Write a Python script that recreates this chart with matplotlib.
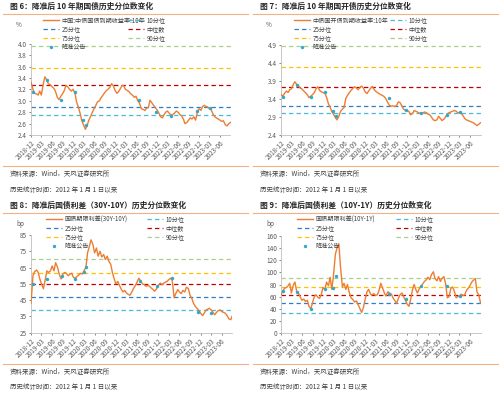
import numpy as np
import pandas as pd
import matplotlib
matplotlib.use("Agg")
import matplotlib.pyplot as plt
from matplotlib.lines import Line2D

plt.rcParams['font.family'] = ['Noto Sans CJK SC', 'DejaVu Sans']

# semi-monthly sampling of the curves
dates = pd.date_range("2018-12-15", "2023-09-15", freq="SMS")
tick_dates = pd.date_range("2018-12-15", periods=19, freq=pd.DateOffset(months=3))
tick_labels = [d.strftime("%Y-%m") for d in tick_dates]

rrr_dates = pd.to_datetime(["2019-01-04", "2019-05-06", "2019-09-06", "2020-01-01",
                            "2020-03-13", "2020-04-03", "2021-07-09", "2021-12-06",
                            "2022-04-15", "2022-11-25", "2023-03-17"])

pct_names = ["10分位", "25分位", "中位数", "75分位", "90分位"]

cgb10 = [3.33, 3.20, 3.13, 3.12, 3.10, 3.17, 3.10, 3.30, 3.42, 3.36,
         3.30, 3.28, 3.25, 3.22, 3.17, 3.06, 3.02, 3.08, 3.12, 3.18,
         3.27, 3.24, 3.20, 3.17, 3.20, 3.14, 2.98, 2.88, 2.78, 2.65,
         2.58, 2.50, 2.56, 2.66, 2.72, 2.80, 2.86, 2.92, 2.98, 3.00,
         3.05, 3.10, 3.14, 3.18, 3.20, 3.24, 3.30, 3.26, 3.18, 3.13,
         3.16, 3.22, 3.27, 3.26, 3.20, 3.18, 3.16, 3.12, 3.10, 3.06,
         3.08, 3.00, 2.96, 2.86, 2.85, 2.83, 2.87, 2.88, 3.01, 2.96,
         2.92, 2.88, 2.84, 2.78, 2.72, 2.70, 2.76, 2.80, 2.82, 2.78,
         2.75, 2.76, 2.78, 2.82, 2.80, 2.76, 2.74, 2.68, 2.60, 2.62,
         2.66, 2.70, 2.68, 2.72, 2.66, 2.80, 2.86, 2.83, 2.90, 2.92,
         2.90, 2.89, 2.86, 2.84, 2.77, 2.72, 2.70, 2.68, 2.66, 2.64,
         2.65, 2.58, 2.56, 2.60, 2.62]
cgb10_rrr = [3.15, 3.36, 3.02, 3.15, 2.66, 2.57, 3.01, 2.81, 2.74, 2.82, 2.87]
cgb10_pct = [2.75, 2.89, 3.27, 3.58, 3.96]

cdb10 = [3.52, 3.48, 3.56, 3.62, 3.58, 3.66, 3.68, 3.80, 3.88, 3.80,
         3.76, 3.70, 3.68, 3.62, 3.58, 3.52, 3.44, 3.48, 3.52, 3.58,
         3.68, 3.74, 3.64, 3.60, 3.58, 3.56, 3.45, 3.26, 3.18, 3.05,
         2.98, 2.88, 2.82, 2.92, 3.05, 3.12, 3.16, 3.42, 3.50, 3.58,
         3.64, 3.70, 3.74, 3.70, 3.66, 3.72, 3.76, 3.70, 3.60, 3.55,
         3.62, 3.70, 3.75, 3.68, 3.62, 3.58, 3.55, 3.52, 3.50, 3.46,
         3.40, 3.30, 3.22, 3.20, 3.21, 3.19, 3.22, 3.32, 3.30, 3.20,
         3.12, 3.08, 3.08, 3.05, 2.96, 3.00, 3.08, 3.06, 3.04, 3.00,
         3.02, 3.00, 3.04, 3.02, 2.98, 2.96, 2.90, 2.82, 2.80, 2.82,
         2.92, 2.86, 2.80, 2.84, 2.90, 2.98, 3.02, 3.04, 3.06, 3.08,
         3.06, 3.02, 3.02, 3.00, 2.94, 2.86, 2.82, 2.80, 2.78, 2.76,
         2.74, 2.70, 2.66, 2.70, 2.74]
cdb10_rrr = [3.46, 3.79, 3.45, 3.60, 3.07, 2.94, 3.42, 3.09, 3.02, 2.96, 3.03]
cdb10_pct = [3.00, 3.20, 3.74, 4.29, 4.87]

sp30_10 = [43, 60, 62.5, 63.5, 62, 58, 55, 52, 57, 63,
           62, 63, 66, 63, 68, 65, 61, 58, 61, 62,
           61.5, 60, 61, 61.5, 59, 58.4, 59.5, 60.5, 61.5, 61,
           63, 65, 74, 78, 82, 79, 74, 77, 72, 75,
           71.5, 73, 70, 72, 69, 67, 62, 58, 55, 56.5,
           54, 51.5, 50, 51, 49.5, 48.5, 48, 50, 52, 54,
           56, 58.5, 57, 55, 54.5, 53.5, 54, 53.5, 52.5, 51.5,
           50.5, 52, 54, 55.5, 54.5, 55.5, 56, 56.5, 57.5, 58.5,
           57, 46.5, 49, 51.5, 50, 49, 51, 50, 53, 52,
           48, 46, 43, 41, 40, 38.5, 37, 35.5, 37, 39,
           39.5, 40, 39, 37.5, 36, 37.5, 38.5, 39, 38, 37.5,
           37, 35.5, 33.5, 33, 35.5]
sp30_10_rrr = [54.7, 58, 59.6, 58, 62.2, 65.3, 56.8, 53.7, 58.4, 38, 37]
sp30_10_pct = [39, 47, 55, 61.5, 70.5]

sp10_1 = [63, 70, 74, 75, 78, 82, 66, 79, 84, 68,
          66, 59, 54, 56, 52, 54, 44, 40, 50, 60,
          63, 59, 57, 64, 75, 72, 84, 78, 92, 72,
          94, 130, 140, 147, 110, 76, 82, 72, 80, 66,
          58, 55, 51, 53, 47, 40, 34, 42, 55, 68,
          72, 64, 63, 65, 62, 63, 70, 82, 75, 66,
          61, 68, 66, 64, 58, 53, 49, 57, 63, 66,
          60, 54, 48, 44, 55, 72, 80, 72, 66, 73,
          77, 81, 85, 88, 92, 88, 96, 101, 90, 86,
          93, 85, 90, 93, 82, 58, 60, 74, 76, 68,
          58, 60, 61, 64, 62, 63, 70, 74, 78, 84,
          87, 90, 68, 62, 50]
sp10_1_rrr = [68.5, 67.2, 39.8, 72.5, 74.7, 94.3, 64, 56.5, 77, 76.8, 60.5]
sp10_1_pct = [32.5, 49.5, 62.5, 76, 90.5]

pct_colors = ["#4BB8D8", "#2F7DC4", "#C00000", "#FFC000", "#A9D18E"]
W, H = 500, 396
fig = plt.figure(figsize=(5.0, 3.96), dpi=100)
fig.patch.set_facecolor("white")


def fx(px):
    return px / W


def fy(py):
    return 1 - py / H


def panel(rect, x0, ytop, title, name, vals, rrr_vals, pcts, yticks, fmt, unit,
          col1, col2, source_y):
    ax = fig.add_axes(rect)
    line, = ax.plot(dates, vals, color="#ED7D31", lw=1.0, zorder=3)
    pl = []
    for v, c in zip(pcts, pct_colors):
        h = ax.axhline(v, color=c, lw=0.9, ls=(0, (3.5, 2.5)), zorder=2)
        pl.append(h)
    sc = ax.scatter(rrr_dates, rrr_vals, s=6, color="#2FA9C9", zorder=4, linewidths=0)
    ax.set_xlim(dates[0], dates[-1])
    ax.set_ylim(yticks[0], yticks[-1])
    ax.set_yticks(yticks)
    ax.set_yticklabels([fmt.format(t) for t in yticks])
    ax.set_xticks(tick_dates)
    ax.set_xticklabels(tick_labels, rotation=45, ha="right", rotation_mode="anchor")
    ax.tick_params(axis="both", labelsize=4.6, colors="#595959", length=1.5, width=0.5,
                   pad=1.5)
    for s in ["top", "right"]:
        ax.spines[s].set_visible(False)
    for s in ["left", "bottom"]:
        ax.spines[s].set_color("#BFBFBF")
        ax.spines[s].set_linewidth(0.6)
    ax.set_facecolor("white")

    kw = dict(loc="upper left", bbox_transform=fig.transFigure, frameon=False,
              fontsize=4.4, handlelength=2.6, handletextpad=0.4, labelspacing=0.12,
              borderpad=0, borderaxespad=0, scatterpoints=1, markerscale=1.0)
    leg1 = ax.legend([line, pl[1], pl[3], sc], [name, pct_names[1], pct_names[3], "降准公告"],
                     bbox_to_anchor=(fx(col1), fy(ytop + 10.5)), **kw)
    for t in leg1.get_texts():
        t.set_color("#404040")
    ax.add_artist(leg1)
    leg2 = ax.legend([pl[0], pl[2], pl[4]], [pct_names[0], pct_names[2], pct_names[4]],
                     bbox_to_anchor=(fx(col2), fy(ytop + 10.5)), **kw)
    for t in leg2.get_texts():
        t.set_color("#404040")

    fig.text(fx(x0 + 10), fy(ytop), title, fontsize=5.6, fontweight="bold",
             color="#262626", va="center", ha="left")
    fig.add_artist(Line2D([fx(x0 + 3), fx(x0 + 248)], [fy(ytop + 8.3)] * 2,
                          transform=fig.transFigure, color="#F4B183", lw=0.8))
    fig.add_artist(Line2D([fx(x0 + 3), fx(x0 + 248)], [fy(source_y - 8.5)] * 2,
                          transform=fig.transFigure, color="#F4B183", lw=0.8))
    fig.text(fx(x0 + 16), fy(ytop + 19), unit, fontsize=4.6, color="#595959",
             va="center", ha="left")
    fig.text(fx(x0 + 10), fy(source_y), "资料来源：Wind，天风证券研究所", fontsize=4.7,
             color="#404040", va="center", ha="left")
    fig.text(fx(x0 + 10), fy(source_y + 15.5), "历史统计时间：2012 年 1 月 1 日以来",
             fontsize=4.7, color="#404040", va="center", ha="left")
    return ax


panel([0.062, 0.6591, 0.399, 0.2305], 0, 6, "图 6：降准后 10 年期国债历史分位数变化",
      "中国:中债国债到期收益率:10年", cgb10, cgb10_rrr, cgb10_pct,
      [2.4, 2.6, 2.8, 3.0, 3.2, 3.4, 3.6, 3.8, 4.0], "{:.1f}", "%", 43, 128, 174)
panel([0.562, 0.6591, 0.399, 0.2273], 250, 6, "图 7：降准后 10 年期国开债历史分位数变化",
      "中债国开债到期收益率:10年", cdb10, cdb10_rrr, cdb10_pct,
      [2.4, 2.9, 3.4, 3.9, 4.4, 4.9], "{:.1f}", "%", 294, 390, 174)
panel([0.062, 0.1598, 0.4028, 0.2468], 0, 205, "图 8：降准后国债利差（30Y-10Y）历史分位数变化",
      "国债期限利差(30Y-10Y)", sp30_10, sp30_10_rrr, sp30_10_pct,
      [25, 35, 45, 55, 65, 75, 85], "{:.0f}", "bp", 46, 147, 372)
panel([0.562, 0.1591, 0.399, 0.2449], 250, 205, "图 9：降准后国债利差（10Y-1Y）历史分位数变化",
      "国债期限利差(10Y-1Y)", sp10_1, sp10_1_rrr, sp10_1_pct,
      [0, 20, 40, 60, 80, 100, 120, 140, 160], "{:.0f}", "bp", 297, 396, 372)

fig.savefig("out.png", dpi=100, facecolor="white")
